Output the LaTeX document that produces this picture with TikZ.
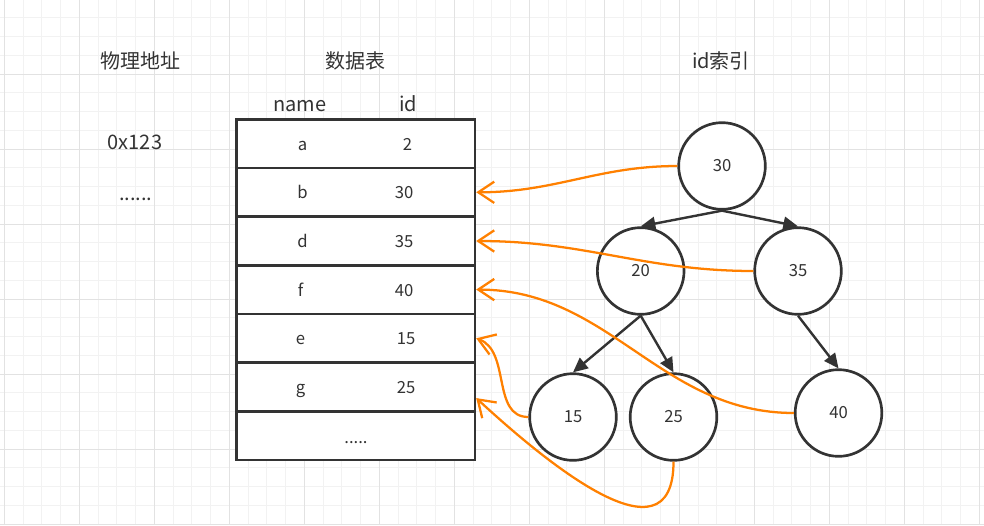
\documentclass[tikz,border=0pt]{standalone}
\usepackage{fontspec}
\setmainfont{Noto Sans CJK SC}
\usepackage{xcolor}
\usetikzlibrary{arrows, arrows.meta}
\usetikzlibrary{calc}

\definecolor{inkgray}{HTML}{333333}
\definecolor{edgeorange}{HTML}{FF8000}
\definecolor{gridminor}{HTML}{F2F2F2}
\definecolor{gridmajor}{HTML}{E2E2E2}

\begin{document}
\begin{tikzpicture}[x=0.75pt, y=-0.75pt,
    title/.style={text=inkgray, font=\fontsize{15}{18}\selectfont},
    cell/.style={text=inkgray, font=\fontsize{12.5}{15}\selectfont, anchor=base},
    row/.style={draw=inkgray, fill=white, line width=2pt, minimum width=178.9pt, minimum height=36.5pt, inner sep=0pt},
    key/.style={circle, draw=inkgray, fill=white, line width=2pt, minimum size=65pt, inner sep=0pt, text=inkgray, font=\fontsize{12.5}{15}\selectfont},
    child/.style={draw=inkgray, line width=1.8pt, -{Triangle[length=11pt, width=10pt]}},
    pointer/.style={draw=edgeorange, line width=1.7pt, -{Straight Barb[length=12pt, width=16pt]}}]

  \useasboundingbox (0,0) rectangle (984,525);

  % background grid
  \foreach \i in {0,...,52}
    \draw[gridminor, line width=0.75pt] ({4.3+18.75*\i},0) -- ({4.3+18.75*\i},525);
  \foreach \j in {1,...,28}
    \draw[gridminor, line width=0.75pt] (0,{-1+18.75*\j}) -- (984,{-1+18.75*\j});
  \foreach \i in {0,4,...,52}
    \draw[gridmajor, line width=0.75pt] ({4.3+18.75*\i},0) -- ({4.3+18.75*\i},525);
  \foreach \j in {4,8,...,28}
    \draw[gridmajor, line width=0.75pt] (0,{-1+18.75*\j}) -- (984,{-1+18.75*\j});

  % headings
  \node[title] (addr) at (140.8,61) {物理地址};
  \node[title] (table) at (355,61) {数据表};
  \node[title] (index) at (721,61) {id索引};
  \node[title, anchor=base] (colname) at (300,111.3) {name};
  \node[title, anchor=base] (colid) at (408,111.3) {id};
  \node[title] (addr1) at (135,142) {0x123};
  \node[title, anchor=base] (addrmore) at (135.7,200.5) {......};

  % data table
  \node[row] (rowa) at (355.6,143.6) {};
  \node[row] (rowb) at (355.6,192.3) {};
  \node[row] (rowd) at (355.6,241.0) {};
  \node[row] (rowf) at (355.6,289.6) {};
  \node[row] (rowe) at (355.6,338.3) {};
  \node[row] (rowg) at (355.6,387.0) {};
  \node[row] (rowmore) at (355.6,435.7) {};

  \node[cell] (namea) at (302.5,150.1) {a};
  \node[cell] (ida) at (407.5,150.1) {2};
  \node[cell] (nameb) at (302.5,198.8) {b};
  \node[cell] (idb) at (404,198.8) {30};
  \node[cell] (named) at (302.5,247.5) {d};
  \node[cell] (idd) at (404,247.5) {35};
  \node[cell] (namef) at (300.5,296.1) {f};
  \node[cell] (idf) at (404,296.1) {40};
  \node[cell] (namee) at (300.5,344.8) {e};
  \node[cell] (ide) at (406,344.8) {15};
  \node[cell] (nameg) at (300.5,393.5) {g};
  \node[cell] (idg) at (406,393.5) {25};
  \node[cell] (more) at (356,443.3) {.....};

  % id index tree
  \node[key] (k30) at (722,166) {30};
  \node[key] (k20) at (640.7,271) {20};
  \node[key] (k35) at (798,271) {35};
  \node[key] (k15) at (573,417) {15};
  \node[key] (k25) at (673.5,417) {25};
  \node[key] (k40) at (838.5,413) {40};

  \draw[child] (k30.south) -- (k20.north);
  \draw[child] (k30.south) -- (k35.north);
  \draw[child] (k20.south) -- (k15.north);
  \draw[child] (k20.south) -- (k25.north);
  \draw[child] (k35.south) -- (k40.north);

  % pointers back to the rows
  \draw[pointer] (k30.west) to[out=180, in=0] (rowb.east);
  \draw[pointer] (k35.west) to[out=180, in=0] (rowd.east);
  \draw[pointer] (k40.west) to[out=180, in=0] (rowf.east);
  \draw[pointer] (k15.west) to[out=180, in=-20] (rowe.east);
  \draw[pointer] (k25.south) .. controls +(0,108) and +(65,60) .. ([yshift=-8.3pt]rowg.east);
\end{tikzpicture}
\end{document}
